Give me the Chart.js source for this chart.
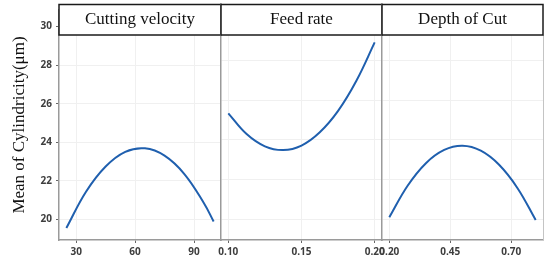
<!DOCTYPE html>
<html>
<head>
<meta charset="utf-8">
<script src="https://cdn.jsdelivr.net/npm/chart.js@4.4.1/dist/chart.umd.min.js"></script>
<style>
  body { margin: 0; background: #fff; }
  #wrap { position: relative; width: 551px; height: 260px; }
  #wrap canvas { position: absolute; left: 0; top: 0; }
</style>
</head>
<body>
<div id="wrap">
  <canvas id="c1" width="551" height="260"></canvas>
  <canvas id="c2" width="551" height="260"></canvas>
  <canvas id="c3" width="551" height="260"></canvas>
</div>
<script>
// datos
const speedX = [25, 35, 45, 55, 65, 75, 85, 95, 100];
const speedY = [19.56, 21.44, 22.75, 23.51, 23.69, 23.31, 22.37, 20.86, 19.90];
const feedX = [0.10, 0.1125, 0.125, 0.1375, 0.15, 0.1625, 0.175, 0.1875, 0.20];
const feedY = [25.34, 24.29, 23.67, 23.48, 23.71, 24.38, 25.46, 26.98, 28.92];
const depthX = [0.20, 0.275, 0.35, 0.425, 0.50, 0.575, 0.65, 0.725, 0.80];
const depthY = [20.09, 21.68, 22.82, 23.49, 23.70, 23.45, 22.74, 21.57, 19.95];

const yTicks = [20, 22, 24, 26, 28, 30];
const speedTicks = [30, 60, 90];
const feedTicks = [0.10, 0.15, 0.20];
const depthTicks = [0.20, 0.45, 0.70];
const panelTitles = ['Cutting velocity', 'Feed rate', 'Depth of Cut'];
const yTitle = 'Mean of Cylindricity(\u03bcm)';

const gridColor = '#f0f0f0';
const axisColor = '#9a9a9a';
const tickFont = { family: '"Open Sans", sans-serif', size: 10, weight: 'bold' };

// tira de titulo estilo facet
const stripPlugin = {
    id: 'strip',
    afterDraw(chart, args, opts) {
        const { ctx, chartArea } = chart;
        ctx.save();
        if (opts.last) {
            ctx.strokeStyle = '#c4c4c4';
            ctx.lineWidth = 1;
            ctx.beginPath();
            ctx.moveTo(chartArea.right + 0.5, 35);
            ctx.lineTo(chartArea.right + 0.5, chartArea.bottom);
            ctx.stroke();
        }
        ctx.fillStyle = '#fff';
        ctx.fillRect(chartArea.left, 4, chartArea.right - chartArea.left, 31);
        ctx.strokeStyle = '#1a1a1a';
        ctx.lineWidth = 1.5;
        ctx.strokeRect(chartArea.left, 4.5, chartArea.right - chartArea.left, 30.5);
        ctx.fillStyle = '#111';
        ctx.font = '17px "Liberation Serif", serif';
        ctx.textAlign = 'center';
        ctx.textBaseline = 'middle';
        ctx.fillText(opts.text, (chartArea.left + chartArea.right) / 2, 20);
        ctx.restore();
    }
};

function crearPanel(id, xs, ys, xTicks, xMin, xMax, left, right, idx) {
    const first = idx === 0;
    const decimals = idx === 0 ? 0 : 2;
    new Chart(document.getElementById(id), {
        type: 'scatter',
        data: {
            datasets: [{
                data: xs.map((x, i) => ({ x: x, y: ys[i] })),
                showLine: true,
                borderColor: '#1f5fae',
                borderWidth: 2,
                pointRadius: 0,
                tension: 0.4
            }]
        },
        options: {
            responsive: false,
            animation: false,
            events: [],
            layout: { padding: { left: first ? 0 : left, right: 551 - right, top: 4, bottom: 0 } },
            plugins: {
                legend: { display: false },
                tooltip: { enabled: false },
                strip: { text: panelTitles[idx], last: idx === 2 }
            },
            scales: {
                x: {
                    type: 'linear',
                    min: xMin, max: xMax,
                    afterBuildTicks: s => { s.ticks = xTicks.map(v => ({ value: v })); },
                    afterFit: s => { s.height = 20; },
                    border: { color: axisColor, width: 1.5 },
                    grid: { color: gridColor, tickColor: '#666', tickLength: 3 },
                    ticks: {
                        font: tickFont, color: '#3d3d3d', padding: 3, maxRotation: 0,
                        callback: v => Number(v).toFixed(decimals)
                    }
                },
                y: {
                    min: 18.94, max: 30.86,
                    afterBuildTicks: s => { s.ticks = yTicks.map(v => ({ value: v })); },
                    afterFit: s => { s.width = first ? 59 : 0; },
                    border: { color: axisColor, width: 1.5 },
                    grid: { color: gridColor, tickColor: '#666', tickLength: 3, drawTicks: first },
                    ticks: { display: first, font: tickFont, color: '#3d3d3d', padding: 4 },
                    title: {
                        display: first,
                        text: yTitle,
                        color: '#111',
                        font: { family: '"Liberation Serif", serif', size: 17 },
                        padding: { top: 9, bottom: 0 }
                    }
                }
            }
        },
        plugins: [stripPlugin]
    });
}

crearPanel('c1', speedX, speedY, speedTicks, 21.25, 103.75, 59, 221, 0);
crearPanel('c2', feedX, feedY, feedTicks, 0.095, 0.205, 221, 382, 1);
crearPanel('c3', depthX, depthY, depthTicks, 0.17, 0.83, 382, 543, 2);
</script>
</body>
</html>
